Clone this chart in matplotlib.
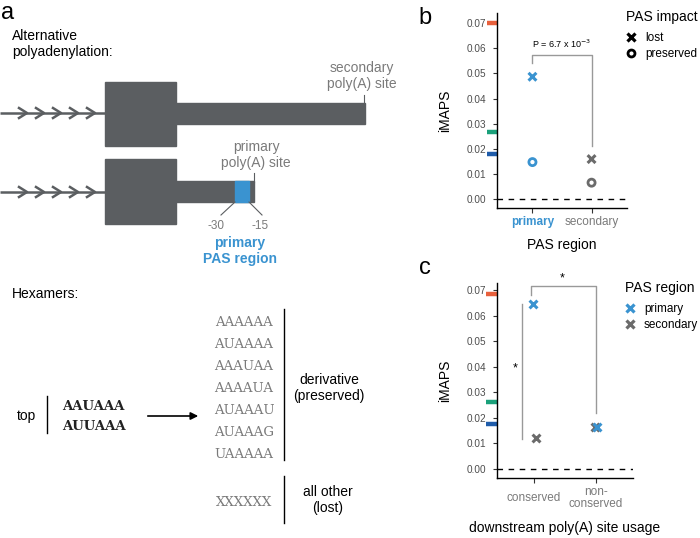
import matplotlib.pyplot as plt
import matplotlib.transforms as mtransforms
from matplotlib.lines import Line2D
from matplotlib.patches import Rectangle

plt.rcParams['font.family'] = ['Liberation Sans', 'DejaVu Sans']

# panel b: iMAPS by PAS region and PAS impact
b_regions = ['primary', 'secondary']
b_lost = [0.0487, 0.0159]
b_preserved = [0.0147, 0.0065]

# panel c: iMAPS by downstream poly(A) site usage
c_usage = ['conserved', 'non-\nconserved']
c_primary = [0.0647, 0.0164]
c_secondary = [0.0120, 0.0166]
c_primary_jit = [-0.02, 0.015]
c_secondary_jit = [0.025, -0.015]

# reference levels marked on the y axis
ref_b = [0.070, 0.0268, 0.0181]
ref_c = [0.0687, 0.0262, 0.0177]
ref_colors = ['#E8603C', '#1AA07A', '#1F5CAA']

# hexamers
hex_top = ['AAUAAA', 'AUUAAA']
hex_derivative = ['AAAAAA', 'AUAAAA', 'AAAUAA', 'AAAAUA', 'AUAAAU', 'AUAAAG', 'UAAAAA']
hex_other = ['XXXXXX']

GREY = '#5B5E61'
TXTGREY = '#7a7a7a'
BLUE = '#3A93D0'
PGREY = '#6b6b6b'

fig = plt.figure(figsize=(7, 5.38), dpi=100)

# ---------------- panel a (schematic, pixel units) ----------------
ax_a = fig.add_axes([0, 0, 0.6, 1])
ax_a.set_xlim(0, 420)
ax_a.set_ylim(538, 0)
ax_a.axis('off')

ax_a.text(8, 13, 'a', fontsize=17, ha='center', va='center')
ax_a.text(12, 44, 'Alternative\npolyadenylation:', fontsize=10, ha='left', va='center', linespacing=1.15)


def draw_gene(ax, y_line, box_top, box_bot, bar_top, bar_bot, bar_end):
    ax.plot([0, 105], [y_line, y_line], color=GREY, lw=1.8, solid_capstyle='butt')
    for tip in [27, 44, 61, 78, 95]:
        ax.plot([tip - 8, tip, tip - 8], [y_line - 5, y_line, y_line + 5], color=GREY, lw=1.8)
    ax.add_patch(Rectangle((105, box_top), 71, box_bot - box_top, color=GREY))
    ax.add_patch(Rectangle((175, bar_top), bar_end - 175, bar_bot - bar_top, color=GREY))


draw_gene(ax_a, 113, 82, 146, 103, 124, 365)
ax_a.plot([364, 364], [95, 103], color=GREY, lw=0.8)
ax_a.text(362, 76, 'secondary\npoly(A) site', fontsize=10, color=TXTGREY, ha='center', va='center', linespacing=1.15)

draw_gene(ax_a, 192, 159, 224, 181, 202, 254)
ax_a.add_patch(Rectangle((235, 181), 14, 21, color=BLUE))
ax_a.plot([254, 254], [173, 182], color=GREY, lw=0.8)
ax_a.text(256, 155, 'primary\npoly(A) site', fontsize=10, color=TXTGREY, ha='center', va='center', linespacing=1.15)
ax_a.plot([235, 221], [202, 215], color=GREY, lw=0.8)
ax_a.plot([249, 262], [202, 215], color=GREY, lw=0.8)
ax_a.text(216, 226, '-30', fontsize=8.5, color=TXTGREY, ha='center', va='center')
ax_a.text(260, 226, '-15', fontsize=8.5, color=TXTGREY, ha='center', va='center')
ax_a.text(240, 251, 'primary\nPAS region', fontsize=10, color=BLUE, fontweight='bold',
          ha='center', va='center', linespacing=1.15)

ax_a.text(12, 294, 'Hexamers:', fontsize=10, ha='left', va='center')

ax_a.text(26, 416, 'top', fontsize=10, ha='center', va='center')
ax_a.plot([47, 47], [396, 433], color='black', lw=1)
for i, h in enumerate(hex_top):
    ax_a.text(62, 407 + 19 * i, h, family='DejaVu Serif', fontweight='bold', fontsize=9.5,
              ha='left', va='center', color='#222222')
ax_a.annotate('', xy=(201, 416), xytext=(145, 416),
              arrowprops=dict(arrowstyle='-|>', color='black', lw=1.2, mutation_scale=11))

for i, h in enumerate(hex_derivative):
    ax_a.text(244, 322 + 22 * i, h, family='DejaVu Serif', fontsize=9.5, ha='center', va='center', color=TXTGREY)
for h in hex_other:
    ax_a.text(244, 502, h, family='DejaVu Serif', fontsize=9.5, ha='center', va='center', color=TXTGREY)
ax_a.plot([284, 284], [309, 460], color='black', lw=1)
ax_a.plot([284, 284], [476, 523], color='black', lw=1)
ax_a.text(329, 388, 'derivative\n(preserved)', fontsize=10, ha='center', va='center', linespacing=1.2)
ax_a.text(328, 500, 'all other\n(lost)', fontsize=10, ha='center', va='center', linespacing=1.2)


# ---------------- shared axis styling ----------------
def style_axis(ax, ylim, refs):
    ax.set_xlim(0.4, 2.6)
    ax.set_ylim(*ylim)
    ax.set_yticks([0, 0.01, 0.02, 0.03, 0.04, 0.05, 0.06, 0.07])
    ax.set_yticklabels(['0.00', '0.01', '0.02', '0.03', '0.04', '0.05', '0.06', '0.07'])
    for s in ['top', 'right']:
        ax.spines[s].set_visible(False)
    for s in ['left', 'bottom']:
        ax.spines[s].set_linewidth(1)
    ax.tick_params(axis='y', length=3, width=0.8, color='#333333', labelsize=7.2, labelcolor='#4d4d4d', pad=5)
    ax.axhline(0, color='black', lw=1, ls=(0, (4, 4)))
    trans = mtransforms.blended_transform_factory(ax.transAxes, ax.transData)
    for v, c in zip(refs, ref_colors):
        ax.plot([-0.08, 0], [v, v], color=c, lw=3.2, transform=trans, clip_on=False, solid_capstyle='butt')
    ax.set_ylabel('iMAPS', fontsize=10)


def legend_with_title(ax, handles, labels, title, x, y_title, y_top):
    fig.text(x / 700, 1 - y_title / 538, title, fontsize=10, ha='left', va='center')
    ax.legend(handles, labels, loc='upper left',
              bbox_to_anchor=(x / 700, 1 - y_top / 538), bbox_transform=fig.transFigure,
              frameon=False, fontsize=8.5, borderpad=0, borderaxespad=0,
              handlelength=0.8, handletextpad=0.8, labelspacing=0.35)


# ---------------- panel b ----------------
ax_b = fig.add_axes([497 / 700, 1 - 208 / 538, 130 / 700, 195 / 538])
style_axis(ax_b, (-0.00359, 0.0741), ref_b)
xb = [1, 2]
b_cols = [BLUE, PGREY]
ax_b.scatter(xb, b_lost, marker='x', s=32, linewidths=2.2, c=b_cols, zorder=3)
ax_b.scatter(xb, b_preserved, marker='o', s=26, linewidths=2, facecolors='none', edgecolors=b_cols, zorder=3)
ax_b.set_xticks(xb)
ax_b.set_xticklabels(b_regions)
ax_b.tick_params(axis='x', length=3.5, width=0.8, color='#333333', labelsize=8.5, pad=2.5)
for lab, col, w in zip(ax_b.get_xticklabels(), [BLUE, TXTGREY], ['bold', 'normal']):
    lab.set_color(col)
    lab.set_fontweight(w)
ax_b.set_xlabel('PAS region', fontsize=10)
ax_b.xaxis.set_label_coords(0.5, -0.155)
ax_b.yaxis.set_label_coords(-0.345, 0.5)
ax_b.plot([1, 1, 2, 2], [0.0540, 0.0574, 0.0574, 0.0212], color='#999999', lw=1)
ax_b.text(1.5, 0.0618, 'P = 6.7 x 10$^{-3}$', fontsize=6.5, ha='center', va='center')
hb = [Line2D([], [], marker='x', ls='none', color='black', ms=5.5, mew=2.3),
      Line2D([], [], marker='o', ls='none', mfc='none', mec='black', ms=5, mew=2)]
legend_with_title(ax_b, hb, ['lost', 'preserved'], 'PAS impact', 626, 17, 32)

# ---------------- panel c ----------------
ax_c = fig.add_axes([497 / 700, 1 - 478 / 538, 136 / 700, 195 / 538])
style_axis(ax_c, (-0.00353, 0.0729), ref_c)
xc = [1, 2]
ax_c.scatter([x + j for x, j in zip(xc, c_secondary_jit)], c_secondary, marker='x', s=32,
             linewidths=2.2, color=PGREY, zorder=3, label='secondary')
ax_c.scatter([x + j for x, j in zip(xc, c_primary_jit)], c_primary, marker='x', s=32,
             linewidths=2.2, color=BLUE, zorder=3, label='primary')
ax_c.set_xticks(xc)
ax_c.set_xticklabels(c_usage)
ax_c.tick_params(axis='x', length=3.5, width=0.8, color='#333333', labelsize=8.5,
                 labelcolor=TXTGREY, pad=11)
for lab in ax_c.get_xticklabels():
    lab.set_va('center')
    lab.set_linespacing(0.95)
ax_c.set_xlabel('downstream poly(A) site usage', fontsize=10)
ax_c.xaxis.set_label_coords(0.5, -0.22)
ax_c.yaxis.set_label_coords(-0.33, 0.5)
ax_c.plot([0.95, 0.95, 2, 2], [0.0683, 0.0716, 0.0716, 0.0219], color='#999999', lw=1, clip_on=False)
ax_c.text(1.45, 0.0745, '*', fontsize=9, ha='center', va='center')
ax_c.plot([0.80, 0.80], [0.0645, 0.0118], color='#999999', lw=1)
ax_c.text(0.686, 0.0395, '*', fontsize=9, ha='center', va='center')
hc = [Line2D([], [], marker='x', ls='none', color=BLUE, ms=5.5, mew=2.3),
      Line2D([], [], marker='x', ls='none', color=PGREY, ms=5.5, mew=2.3)]
legend_with_title(ax_c, hc, ['primary', 'secondary'], 'PAS region', 625, 288, 303)

fig.text(425 / 700, 1 - 18 / 538, 'b', fontsize=17, ha='center', va='center')
fig.text(425 / 700, 1 - 268 / 538, 'c', fontsize=17, ha='center', va='center')

fig.savefig('out.png', dpi=100)
